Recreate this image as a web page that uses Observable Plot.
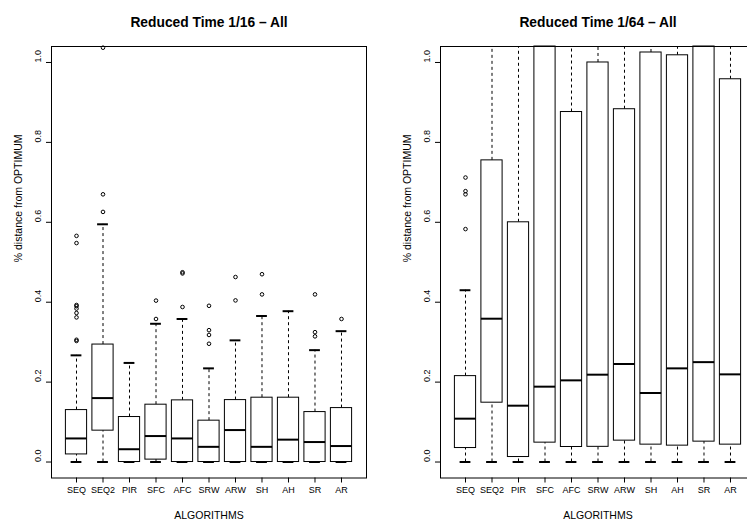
<!DOCTYPE html>
<html>
<head>
<meta charset="utf-8">
<script src="https://cdn.jsdelivr.net/npm/d3@7"></script>
<script src="https://cdn.jsdelivr.net/npm/@observablehq/plot@0.6"></script>
<style>
  html, body { margin: 0; padding: 0; background: white; }
  #wrap { position: relative; width: 747px; height: 527px; overflow: hidden; background: white; }
  #wrap svg { position: absolute; top: 0; }
</style>
</head>
<body>
<div id="wrap"></div>
<script>
const algorithms = ["SEQ", "SEQ2", "PIR", "SFC", "AFC", "SRW", "ARW", "SH", "AH", "SR", "AR"];
const yTicks = [0.0, 0.2, 0.4, 0.6, 0.8, 1.0];

// Panel 1: Reduced Time 1/16
const title16 = "Reduced Time 1/16 \u2013 All";
const lo16  = [0, 0, 0, 0, 0, 0, 0, 0, 0, 0, 0];
const q1_16 = [0.019, 0.0785, 0, 0.006, 0, 0, 0, 0, 0, 0, 0];
const med16 = [0.059, 0.160, 0.032, 0.065, 0.059, 0.038, 0.080, 0.038, 0.056, 0.050, 0.040];
const q3_16 = [0.130, 0.294, 0.1126, 0.1435, 0.1543, 0.1035, 0.155, 0.161, 0.161, 0.125, 0.135];
const hi16  = [0.267, 0.595, 0.248, 0.346, 0.358, 0.2344, 0.3045, 0.3655, 0.3775, 0.280, 0.3275];
const out16 = [
  [0.303, 0.306, 0.362, 0.373, 0.384, 0.390, 0.393, 0.548, 0.566],
  [0.626, 0.670, 1.037],
  [],
  [0.358, 0.404],
  [0.388, 0.472, 0.475],
  [0.296, 0.318, 0.330, 0.391],
  [0.4045, 0.463],
  [0.4195, 0.470],
  [],
  [0.3145, 0.325, 0.4195],
  [0.358]
];

// Panel 2: Reduced Time 1/64 (upper parts beyond 1.04 are cut off in the picture)
const title64 = "Reduced Time 1/64 \u2013 All";
const lo64  = [0, 0, 0, 0, 0, 0, 0, 0, 0, 0, 0];
const q1_64 = [0.035, 0.1485, 0.0125, 0.0485, 0.0376, 0.038, 0.0535, 0.0435, 0.041, 0.051, 0.0435];
const med64 = [0.1085, 0.3587, 0.141, 0.1886, 0.2044, 0.2186, 0.2453, 0.1727, 0.2344, 0.250, 0.2194];
const q3_64 = [0.215, 0.755, 0.600, 1.12, 0.876, 1.000, 0.883, 1.025, 1.018, 1.12, 0.958];
const hi64  = [0.430, 1.4, 1.4, 1.6, 1.6, 1.6, 1.6, 1.6, 1.6, 1.6, 1.6];
const out64 = [
  [0.583, 0.670, 0.678, 0.712],
  [], [], [], [], [], [], [], [], [], []
];

const YMIN = -0.04, YMAX = 1.04;
const FONT = "'Liberation Sans', Arial, Helvetica, sans-serif";

function panel(title, lo, q1, med, q3, hi, outl, marginLeft, marginRight) {
  const rows = algorithms.map((a, i) => ({a, lo: lo[i], q1: q1[i], med: med[i], q3: q3[i], hi: hi[i]}));
  const pts = algorithms.flatMap((a, i) => outl[i].map(v => ({a, v})));
  const cl = v => Math.max(YMIN, Math.min(YMAX, v));
  const plotW = 315;
  return Plot.plot({
    width: marginLeft + plotW + marginRight,
    height: 527,
    marginTop: 46,
    marginBottom: 49.5,
    marginLeft,
    marginRight,
    style: {fontFamily: FONT, background: "white", color: "black", fontSize: "9px"},
    x: {type: "band", domain: algorithms, paddingInner: 0.2, paddingOuter: 0.5434, round: false, label: null},
    y: {domain: [YMIN, YMAX], label: null},
    marks: [
      Plot.ruleX(rows.filter(d => d.q3 < YMAX), {x: "a", y1: "q3", y2: d => cl(d.hi), stroke: "black", strokeWidth: 1, strokeDasharray: "3,3"}),
      Plot.ruleX(rows.filter(d => d.q1 > d.lo), {x: "a", y1: "lo", y2: "q1", stroke: "black", strokeWidth: 1, strokeDasharray: "3,3"}),
      Plot.tickY(rows.filter(d => d.hi <= YMAX), {x: "a", y: "hi", insetLeft: 5.2, insetRight: 5.2, stroke: "black", strokeWidth: 2}),
      Plot.tickY(rows, {x: "a", y: "lo", insetLeft: 5.2, insetRight: 5.2, stroke: "black", strokeWidth: 2}),
      Plot.barY(rows, {x: "a", y1: "q1", y2: d => cl(d.q3), fill: "white", stroke: "black", strokeWidth: 1}),
      Plot.tickY(rows, {x: "a", y: "med", stroke: "black", strokeWidth: 2}),
      Plot.dot(pts, {x: "a", y: "v", r: 1.8, stroke: "black", fill: "none", strokeWidth: 1}),
      Plot.frame({stroke: "black", strokeWidth: 1}),
      Plot.axisX({tickSize: 5, tickPadding: 4, fontSize: 9, label: null}),
      Plot.axisY({ticks: yTicks, tickSize: 5, tickFormat: () => "", label: null}),
      Plot.text(yTicks, {y: d => d, frameAnchor: "left", dx: -13.4, rotate: -90, text: d => d.toFixed(1), fontSize: 9}),
      Plot.text([title], {frameAnchor: "top", dy: -29.8, text: d => d, fontWeight: "bold", fontSize: 13.8}),
      Plot.text(["ALGORITHMS"], {frameAnchor: "bottom", dy: 40.6, text: d => d, fontSize: 10.5}),
      Plot.text(["% distance from OPTIMUM"], {frameAnchor: "left", dx: -32.9, rotate: -90, text: d => d, fontSize: 10.5})
    ]
  });
}

const wrap = document.getElementById("wrap");
const left = panel(title16, lo16, q1_16, med16, q3_16, hi16, out16, 51, 7);
left.style.left = "0px";
wrap.appendChild(left);
const right = panel(title64, lo64, q1_64, med64, q3_64, hi64, out64, 67, 8);
right.style.left = "373px";
wrap.appendChild(right);
</script>
</body>
</html>
